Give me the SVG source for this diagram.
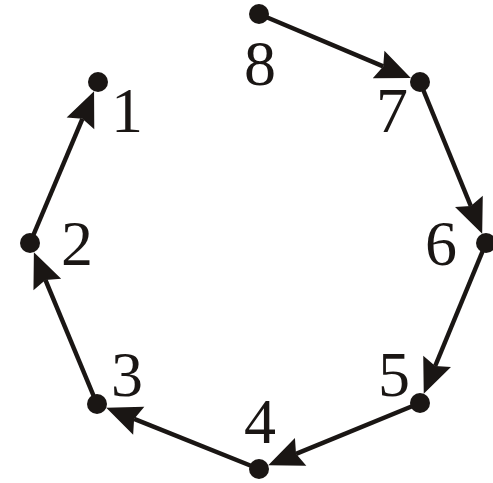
<svg xmlns="http://www.w3.org/2000/svg" width="493" height="483" viewBox="0 0 493 483">
  <style>
    .dot { fill: #1a1614; }
    .lbl { font-family: "Liberation Serif", "Times New Roman", serif; font-size: 64px; fill: #1a1614; text-anchor: middle; }
    .edge { stroke: #1a1614; stroke-width: 4.5; fill: none; marker-end: url(#ah); }
  </style>
  <defs>
    <marker id="ah" markerUnits="userSpaceOnUse" viewBox="-10 -18 44 36" markerWidth="44" markerHeight="36" refX="0" refY="0" orient="auto" overflow="visible">
      <path d="M30,0 L-5,-15 L0,0 L-5,15 Z" fill="#1a1614"/>
    </marker>
  </defs>
  <rect width="493" height="483" fill="#ffffff"/>
  <g id="connectors">
    <line class="edge" x1="259" y1="14" x2="383.2" y2="66.4"/>
    <line class="edge" x1="420" y1="82" x2="470.8" y2="206"/>
    <line class="edge" x1="486" y1="243" x2="435.2" y2="366"/>
    <line class="edge" x1="420" y1="403" x2="296" y2="453.8"/>
    <line class="edge" x1="259" y1="469" x2="134.1" y2="418.9"/>
    <line class="edge" x1="97" y1="404" x2="45.4" y2="279.9"/>
    <line class="edge" x1="30" y1="243" x2="82.4" y2="118.8"/>
  </g>
  <g id="n1"><circle class="dot" cx="98" cy="82" r="10"/><text class="lbl" x="127" y="132">1</text></g>
  <g id="n2"><circle class="dot" cx="30" cy="243" r="10"/><text class="lbl" x="77" y="265">2</text></g>
  <g id="n3"><circle class="dot" cx="97" cy="404" r="10"/><text class="lbl" x="127" y="396">3</text></g>
  <g id="n4"><circle class="dot" cx="259" cy="469" r="10"/><text class="lbl" x="260" y="443">4</text></g>
  <g id="n5"><circle class="dot" cx="420" cy="403" r="10"/><text class="lbl" x="394" y="396">5</text></g>
  <g id="n6"><circle class="dot" cx="486" cy="243" r="10"/><text class="lbl" x="441" y="265">6</text></g>
  <g id="n7"><circle class="dot" cx="420" cy="82" r="10"/><text class="lbl" x="392" y="132">7</text></g>
  <g id="n8"><circle class="dot" cx="259" cy="14" r="10"/><text class="lbl" x="260" y="85">8</text></g>
</svg>
